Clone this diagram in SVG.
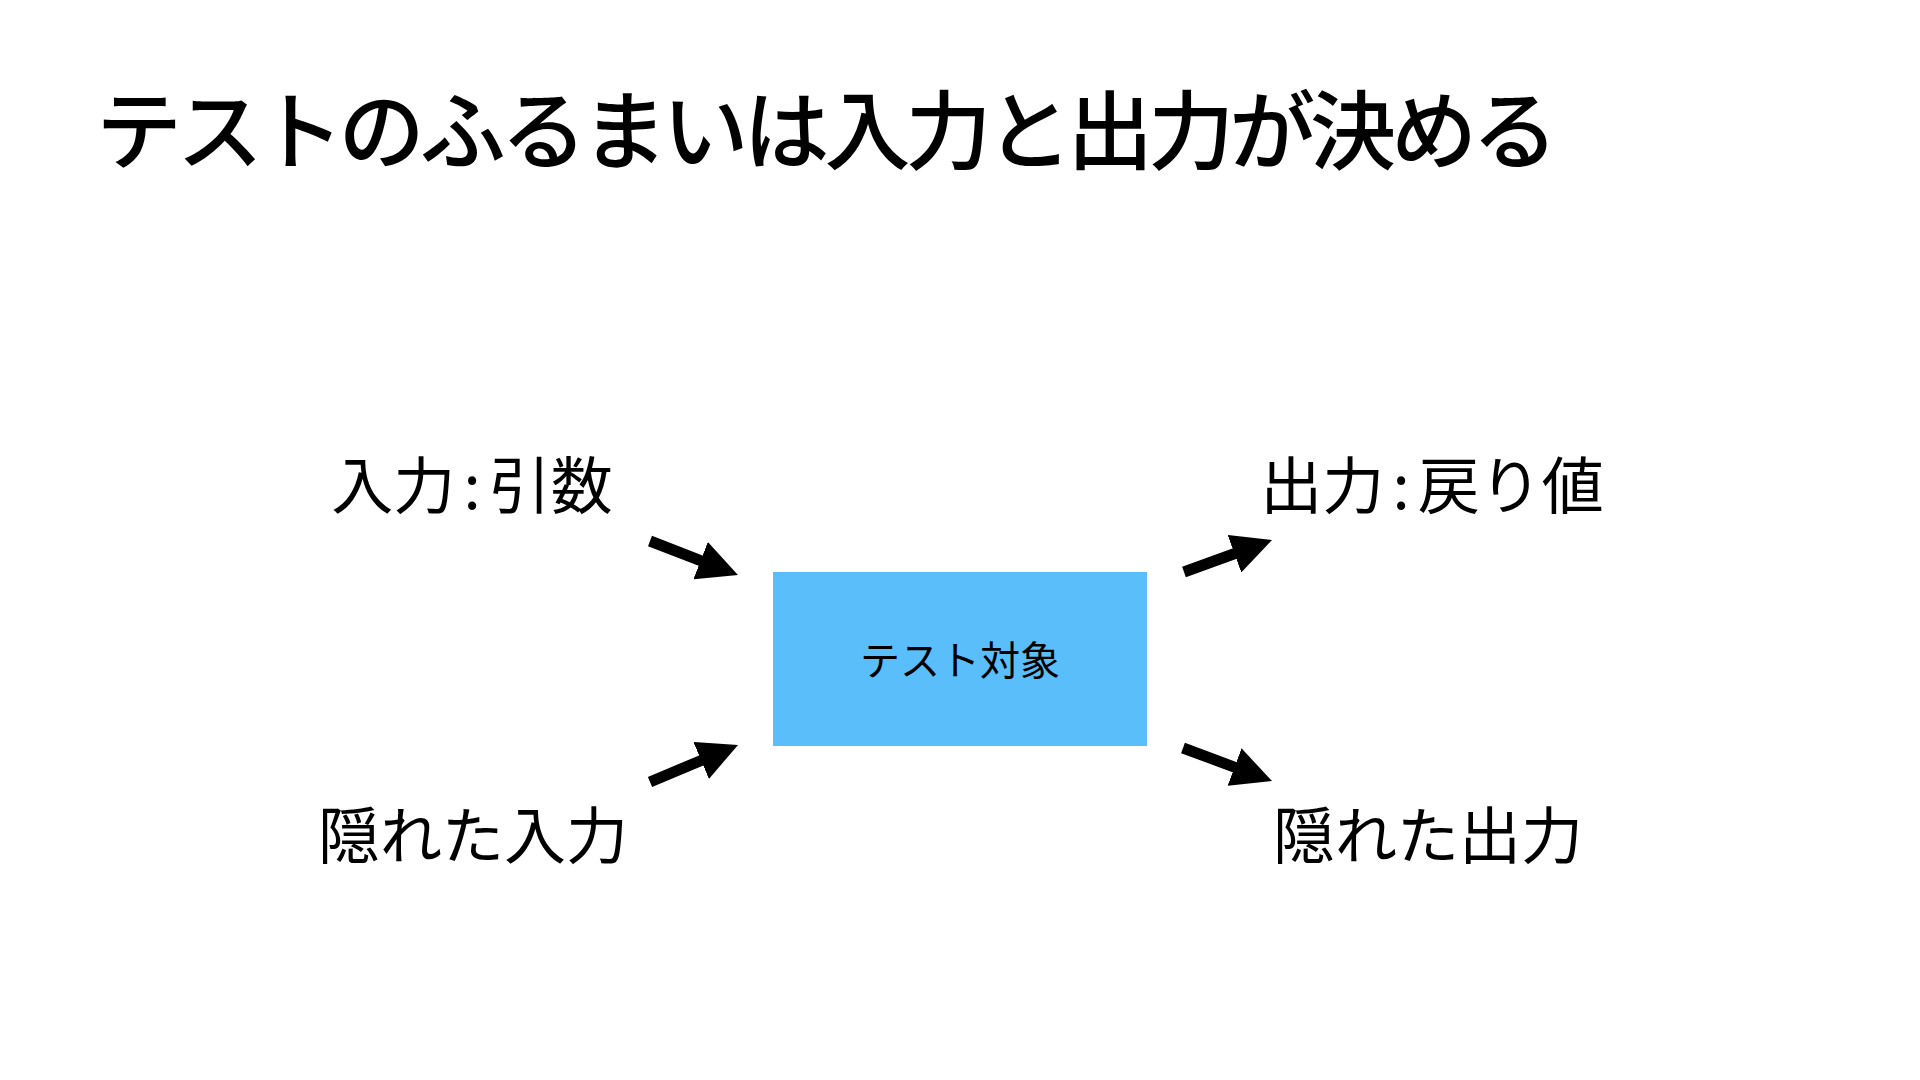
<svg xmlns="http://www.w3.org/2000/svg" width="1920" height="1080" viewBox="0 0 1920 1080">
  <style>
    .jp { font-family: "Noto Sans CJK JP", "Noto Sans", sans-serif; fill: #000; }
    .title { font-size: 86px; font-weight: 500; }
    .label { font-size: 62px; text-anchor: middle; }
    .box-text { font-size: 40px; text-anchor: middle; }
    .arrow { stroke: #000; stroke-width: 11; fill: none; marker-end: url(#head); }
  </style>
  <defs>
    <marker id="head" viewBox="0 0 40 40" refX="2" refY="20" markerWidth="40" markerHeight="40" markerUnits="userSpaceOnUse" orient="auto">
      <path d="M0,0 L40,20 L0,40 Z" fill="#000"/>
    </marker>
  </defs>
  <rect width="1920" height="1080" fill="#fff"/>

  <g id="title">
    <text class="jp title" x="96" y="163" textLength="1462" lengthAdjust="spacing">テストのふるまいは入力と出力が決める</text>
  </g>

  <g id="node-target">
    <rect x="773" y="572" width="374" height="174" fill="#59BEF9"/>
    <text class="jp box-text" x="960" y="675">テスト対象</text>
  </g>

  <g id="node-input-args">
    <text class="jp label" x="472" y="509">入力<tspan dx="8">:</tspan><tspan dx="8">引数</tspan></text>
  </g>
  <g id="node-hidden-input">
    <text class="jp label" x="473" y="859">隠れた入力</text>
  </g>
  <g id="node-output-return">
    <text class="jp label" x="1432" y="509">出力<tspan dx="8">:</tspan><tspan dx="8">戻り値</tspan></text>
  </g>
  <g id="node-hidden-output">
    <text class="jp label" x="1428" y="859">隠れた出力</text>
  </g>

  <g id="connectors">
    <line class="arrow" x1="650" y1="541" x2="702.5" y2="561.3"/>
    <line class="arrow" x1="650" y1="782" x2="703" y2="759.7"/>
    <line class="arrow" x1="1184" y1="572" x2="1236.3" y2="553"/>
    <line class="arrow" x1="1183" y1="748" x2="1236.4" y2="767.8"/>
  </g>
</svg>
